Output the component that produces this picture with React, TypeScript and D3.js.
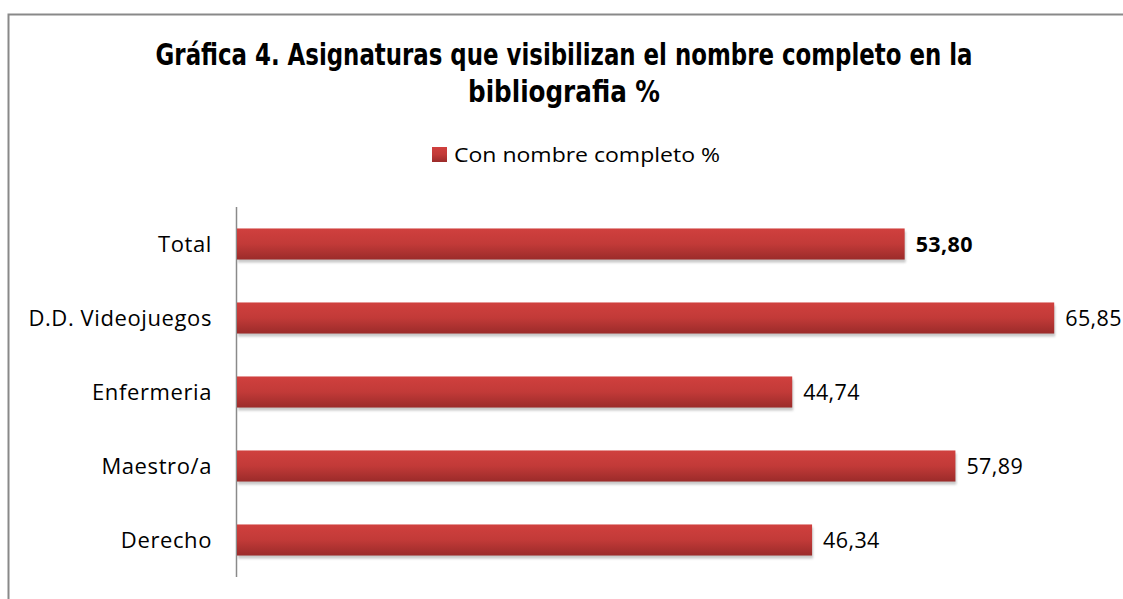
import React, { useLayoutEffect, useRef } from "react";
import * as d3 from "d3";

const categories = ["Total", "D.D. Videojuegos", "Enfermeria", "Maestro/a", "Derecho"];
const values = [53.8, 65.85, 44.74, 57.89, 46.34];
const labels = ["53,80", "65,85", "44,74", "57,89", "46,34"];
const boldLabel = [true, false, false, false, false];
const seriesName = "Con nombre completo %";
const titleLines = ["Gráfica 4. Asignaturas que visibilizan el nombre completo en la", "bibliografia %"];
const titleWidths = [817, 192];

const FONT = "'Open Sans', Lato, sans-serif";

export default function App() {
  const W = 1123, H = 599;
  const x = d3.scaleLinear().domain([0, 70]).range([237, 237 + 70 * 12.41]);
  const y = d3.scaleBand<string>().domain(categories).range([207, 577]).paddingInner(0.58).paddingOuter(0.29);
  const bh = y.bandwidth();
  const titleRef = useRef<SVGGElement>(null);

  useLayoutEffect(() => {
    const g = titleRef.current;
    if (!g) return;
    d3.select(g).selectAll<SVGTextElement, unknown>("text").each(function (_, i) {
      const natural = this.getComputedTextLength();
      const sx = natural > 0 ? titleWidths[i] / natural : 1;
      d3.select(this).attr("transform", `translate(564,${65 + i * 37}) scale(${sx},1)`);
    });
  }, []);

  return (
    <svg width={W} height={H} style={{ position: "absolute", left: 0, top: 0, background: "#fff" }}>
      <defs>
        <linearGradient id="barg" x1="0" y1="0" x2="0" y2="1">
          <stop offset="0" stopColor="#d0403e" />
          <stop offset="0.5" stopColor="#c23a38" />
          <stop offset="1" stopColor="#9b2b2a" />
        </linearGradient>
        <filter id="blur" x="-5%" y="-50%" width="110%" height="200%">
          <feGaussianBlur stdDeviation="1.2" />
        </filter>
      </defs>
      <rect x={8.5} y={14.5} width={1200} height={700} fill="#fff" stroke="#898989" strokeWidth={2} />
      <g ref={titleRef}>
        {titleLines.map((t, i) => (
          <text key={i} x={0} y={0} transform={`translate(564,${65 + i * 37}) scale(0.75,1)`} textAnchor="middle"
            fontFamily="'DejaVu Sans Condensed', 'DejaVu Sans'" fontStretch="condensed" fontWeight="bold" fontSize={31}
            fill="#000">{t}</text>
        ))}
      </g>
      <rect x={432} y={147} width={15} height={15} fill="url(#barg)" />
      <text x={454} y={162} fontFamily={FONT} fontSize={20} fill="#000"
        textLength={266} lengthAdjust="spacingAndGlyphs">{seriesName}</text>
      <line x1={236.5} x2={236.5} y1={207} y2={577} stroke="#8a8a8a" strokeWidth={1.5} />
      {categories.map((c, i) => {
        const y0 = y(c)!;
        const x1 = x(values[i]);
        return (
          <g key={c}>
            <rect x={x(0) + 1} y={y0 + 3} width={x1 - x(0)} height={bh} fill="#9a9a9a" opacity={0.55} filter="url(#blur)" />
            <rect x={x(0)} y={y0} width={x1 - x(0)} height={bh} fill="url(#barg)" />
            <text x={212} y={y0 + bh / 2} dy="0.35em" textAnchor="end" fontFamily={FONT} fontSize={22} letterSpacing={0.6} fill="#000">{c}</text>
            <text x={x1 + 11} y={y0 + bh / 2} dy="0.35em" fontFamily={FONT} fontSize={21.5} letterSpacing={0.4}
              fontWeight={boldLabel[i] ? "bold" : "normal"} fill="#000">{labels[i]}</text>
          </g>
        );
      })}
    </svg>
  );
}
